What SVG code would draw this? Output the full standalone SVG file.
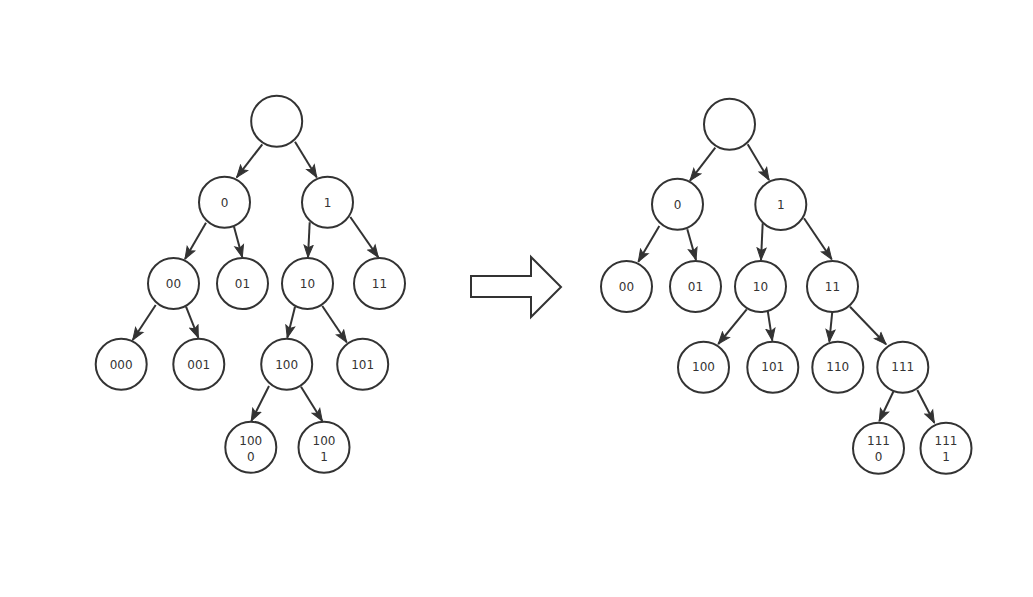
<svg xmlns="http://www.w3.org/2000/svg" width="1033" height="597" viewBox="0 0 1033 597">
<style>
.n circle{fill:#fff;stroke:#333;stroke-width:2}
.n text{font-family:"DejaVu Sans",sans-serif;font-size:12px;fill:#333;text-anchor:middle}
.e line{stroke:#333;stroke-width:2;marker-end:url(#ah)}
.big{fill:#fff;stroke:#333;stroke-width:2}
</style>
<defs>
<marker id="ah" markerUnits="userSpaceOnUse" markerWidth="14" markerHeight="12" viewBox="0 0 14 12" refX="13" refY="6" orient="auto">
<path d="M1,1.5 L13,6 L1,10.5 L3.5,6 Z" fill="#333" stroke="#333" stroke-width="1"/>
</marker>
</defs>
<rect width="1033" height="597" fill="#fff"/>
<g id="connectors" class="e">
<line x1="262.3" y1="144.3" x2="236.7" y2="177.3"/>
<line x1="295" y1="141.7" x2="316.7" y2="177.3"/>
<line x1="206" y1="222.7" x2="185" y2="259"/>
<line x1="234" y1="226.7" x2="242.3" y2="257.3"/>
<line x1="309.7" y1="222.3" x2="308" y2="257.3"/>
<line x1="350.3" y1="217" x2="378.3" y2="257.3"/>
<line x1="155.7" y1="305" x2="132.7" y2="340"/>
<line x1="186" y1="306.7" x2="198.3" y2="337.7"/>
<line x1="295" y1="306.7" x2="287.3" y2="337.7"/>
<line x1="322.3" y1="306" x2="346.7" y2="342.3"/>
<line x1="269" y1="386" x2="251.3" y2="421"/>
<line x1="301" y1="386.7" x2="322.3" y2="421"/>
<line x1="715.3" y1="147.7" x2="690" y2="180.7"/>
<line x1="747.7" y1="144.3" x2="769" y2="180"/>
<line x1="659.3" y1="226" x2="638.3" y2="261.7"/>
<line x1="687.3" y1="229.3" x2="696" y2="260"/>
<line x1="762.7" y1="223.3" x2="761" y2="260"/>
<line x1="804" y1="218.3" x2="831.7" y2="259.3"/>
<line x1="746.7" y1="309.3" x2="718.3" y2="344"/>
<line x1="767.7" y1="310.7" x2="772.3" y2="340.7"/>
<line x1="832.3" y1="311.7" x2="829.3" y2="341.7"/>
<line x1="850" y1="306.7" x2="886" y2="344.3"/>
<line x1="893.3" y1="391.7" x2="879.3" y2="421"/>
<line x1="917.3" y1="390" x2="934.3" y2="422.7"/>
</g>
<g id="L-root" class="n"><circle cx="276.7" cy="121.2" r="25.5"/></g>
<g id="L-0" class="n"><circle cx="224.5" cy="202.3" r="25.5"/><text x="224.5" y="206.5">0</text></g>
<g id="L-1" class="n"><circle cx="327.5" cy="202.3" r="25.5"/><text x="327.5" y="206.5">1</text></g>
<g id="L-00" class="n"><circle cx="173.5" cy="283.5" r="25.5"/><text x="173.5" y="287.7">00</text></g>
<g id="L-01" class="n"><circle cx="242.5" cy="283.5" r="25.5"/><text x="242.5" y="287.7">01</text></g>
<g id="L-10" class="n"><circle cx="307.5" cy="283.5" r="25.5"/><text x="307.5" y="287.7">10</text></g>
<g id="L-11" class="n"><circle cx="379.5" cy="283.5" r="25.5"/><text x="379.5" y="287.7">11</text></g>
<g id="L-000" class="n"><circle cx="121.2" cy="364.3" r="25.5"/><text x="121.2" y="368.5">000</text></g>
<g id="L-001" class="n"><circle cx="198.8" cy="364.3" r="25.5"/><text x="198.8" y="368.5">001</text></g>
<g id="L-100" class="n"><circle cx="286.7" cy="364.3" r="25.5"/><text x="286.7" y="368.5">100</text></g>
<g id="L-101" class="n"><circle cx="362.7" cy="364.3" r="25.5"/><text x="362.7" y="368.5">101</text></g>
<g id="L-1000" class="n"><circle cx="250.8" cy="447.2" r="25.5"/><text x="250.8" y="445">100</text><text x="250.8" y="461">0</text></g>
<g id="L-1001" class="n"><circle cx="324" cy="447.2" r="25.5"/><text x="324" y="445">100</text><text x="324" y="461">1</text></g>
<g id="transform-arrow"><polygon class="big" points="471,276 531,276 531,257 561,287 531,317 531,297 471,297"/></g>
<g id="R-root" class="n"><circle cx="729.5" cy="124.2" r="25.5"/></g>
<g id="R-0" class="n"><circle cx="677.5" cy="204.3" r="25.5"/><text x="677.5" y="208.5">0</text></g>
<g id="R-1" class="n"><circle cx="780.8" cy="204.5" r="25.5"/><text x="780.8" y="208.7">1</text></g>
<g id="R-00" class="n"><circle cx="626.5" cy="286.5" r="25.5"/><text x="626.5" y="290.7">00</text></g>
<g id="R-01" class="n"><circle cx="695.5" cy="286.5" r="25.5"/><text x="695.5" y="290.7">01</text></g>
<g id="R-10" class="n"><circle cx="760.5" cy="286.5" r="25.5"/><text x="760.5" y="290.7">10</text></g>
<g id="R-11" class="n"><circle cx="832.5" cy="286.5" r="25.5"/><text x="832.5" y="290.7">11</text></g>
<g id="R-100" class="n"><circle cx="703.5" cy="367.2" r="25.5"/><text x="703.5" y="371.4">100</text></g>
<g id="R-101" class="n"><circle cx="772.8" cy="367.2" r="25.5"/><text x="772.8" y="371.4">101</text></g>
<g id="R-110" class="n"><circle cx="837.8" cy="367.2" r="25.5"/><text x="837.8" y="371.4">110</text></g>
<g id="R-111" class="n"><circle cx="902.8" cy="367.2" r="25.5"/><text x="902.8" y="371.4">111</text></g>
<g id="R-1110" class="n"><circle cx="878.5" cy="448.3" r="25.5"/><text x="878.5" y="445">111</text><text x="878.5" y="461">0</text></g>
<g id="R-1111" class="n"><circle cx="946" cy="448.3" r="25.5"/><text x="946" y="445">111</text><text x="946" y="461">1</text></g>
</svg>
